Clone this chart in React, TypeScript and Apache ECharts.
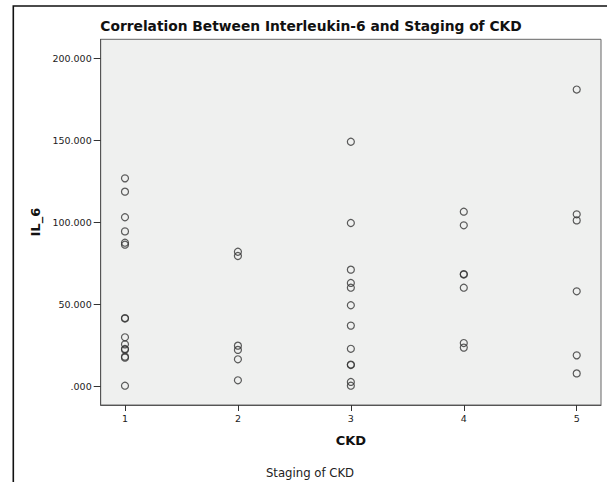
import React, { useEffect, useRef } from "react";
import * as echarts from "echarts";

const stages = [1, 2, 3, 4, 5];
const stage1 = [126.9, 118.8, 103.2, 94.6, 87.7, 86.5, 41.8, 41.5, 30.1, 25.8, 23.0, 22.6, 18.3, 17.7, 0.6];
const stage2 = [82.2, 79.6, 25.0, 22.4, 16.7, 3.9];
const stage3 = [149.2, 99.7, 71.3, 63.2, 60.3, 49.6, 37.2, 23.1, 13.5, 13.2, 2.9, 0.6];
const stage4 = [106.6, 98.3, 68.6, 68.3, 60.3, 26.6, 23.8];
const stage5 = [181.0, 105.0, 101.3, 58.1, 19.1, 8.1];
const yTicks = [0, 50, 100, 150, 200];

const title = "Correlation Between Interleukin-6 and Staging of CKD";
const subtitle = "Staging of CKD";

export default function App() {
  const ref = useRef<HTMLDivElement>(null);
  useEffect(() => {
    document.body.style.margin = "0";
    const chart = echarts.init(ref.current!, null, { renderer: "svg" });
    const groups = [stage1, stage2, stage3, stage4, stage5];
    const data: number[][] = [];
    groups.forEach((g, i) => g.forEach((v) => data.push([stages[i], v])));
    const font = "'DejaVu Sans', sans-serif";
    chart.setOption({
      animation: false,
      backgroundColor: "#ffffff",
      grid: {
        left: 100.7,
        right: 6,
        top: 39.3,
        bottom: 77,
        show: true,
        backgroundColor: "#eff0ef",
        borderColor: "#666666",
        borderWidth: 1,
      },
      xAxis: {
        type: "value",
        min: 0.785,
        max: 5.215,
        name: "CKD",
        nameLocation: "middle",
        nameGap: 29,
        nameTextStyle: { fontFamily: font, fontWeight: "bold", fontSize: 13, color: "#111" },
        axisLine: { show: true, onZero: false, lineStyle: { color: "#555" } },
        axisTick: { show: true, length: 6, customValues: stages, lineStyle: { color: "#333" } },
        axisLabel: { customValues: stages, fontFamily: font, fontSize: 9.5, color: "#222", margin: 8 },
        splitLine: { show: false },
      },
      yAxis: {
        type: "value",
        min: -11.15,
        max: 211.6,
        name: "IL_6",
        nameLocation: "middle",
        nameGap: 58,
        nameTextStyle: { fontFamily: font, fontWeight: "bold", fontSize: 13, color: "#111" },
        axisLine: { show: true, lineStyle: { color: "#555" } },
        axisTick: { show: true, length: 7, customValues: yTicks, lineStyle: { color: "#333" } },
        axisLabel: {
          customValues: yTicks,
          fontFamily: font,
          fontSize: 9.5,
          color: "#222",
          margin: 9,
          formatter: (v: number) => (v === 0 ? ".000" : v.toFixed(3)),
        },
        splitLine: { show: false },
      },
      graphic: [
        {
          type: "rect",
          shape: { x: 13.3, y: 6, width: 700, height: 600 },
          style: { fill: "none", stroke: "#111", lineWidth: 1.6 },
          silent: true,
        },
        {
          type: "text",
          x: 311,
          y: 25.5,
          style: {
            text: title,
            fontFamily: font,
            fontWeight: "bold",
            fontSize: 13.8,
            fill: "#111",
            textAlign: "center",
            textVerticalAlign: "middle",
          },
        },
        {
          type: "text",
          x: 310,
          y: 473,
          style: {
            text: subtitle,
            fontFamily: font,
            fontSize: 11.7,
            fill: "#222",
            textAlign: "center",
            textVerticalAlign: "middle",
          },
        },
      ],
      series: [
        {
          type: "scatter",
          data,
          symbol: "circle",
          symbolSize: 7,
          itemStyle: { color: "rgba(0,0,0,0)", borderColor: "#333", borderWidth: 1.2 },
        },
      ],
    });
    return () => chart.dispose();
  }, []);
  return <div ref={ref} style={{ width: 607, height: 482 }} />;
}
